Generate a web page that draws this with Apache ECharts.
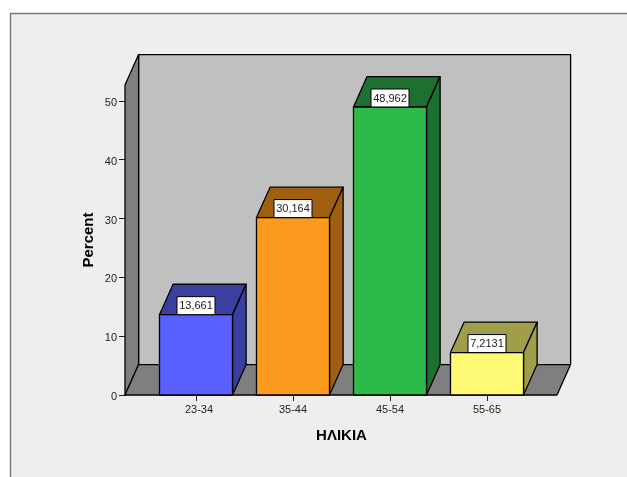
<!DOCTYPE html>
<html>
<head>
<meta charset="utf-8">
<style>html,body{margin:0;padding:0;background:#fff}#c{width:627px;height:477px}</style>
<script src="https://cdn.jsdelivr.net/npm/echarts@6/dist/echarts.min.js"></script>
</head>
<body>
<div id="c"></div>
<script>
// Age groups and the share of respondents in each
const categories = ['23-34', '35-44', '45-54', '55-65'];
const percents = [13.661, 30.164, 48.962, 7.2131];
const yTicks = [0, 10, 20, 30, 40, 50];
const frontColors = ['#5A5FFF', '#FC9A1E', '#2DBA4A', '#FDF975'];
const shadeColors = ['#3A3FA0', '#9E6010', '#1E7030', '#A09E4A'];

const yMax = 52.7;
const depthX = 13.6, depthY = -30.4;   // oblique offset of the 3D box
const overhangL = 22.5, overhangR = 21.5;  // floor extends past the outer bands
const ink = '#000';
const lineW = 1.3;

function poly(points, fill) {
  return { type: 'polygon', shape: { points }, style: { fill, stroke: ink, lineWidth: lineW, lineJoin: 'round' } };
}

// Left wall, back wall and floor of the box
function renderWalls(params, api) {
  const cs = params.coordSys;
  const [, y0] = api.coord([0, 0]);
  const [, yT] = api.coord([0, yMax]);
  const xL = cs.x - overhangL, xR = cs.x + cs.width + overhangR;
  return {
    type: 'group',
    children: [
      poly([[xL + depthX, yT + depthY], [xR + depthX, yT + depthY], [xR + depthX, y0 + depthY], [xL + depthX, y0 + depthY]], '#C0C0C0'),
      poly([[xL, yT], [xL + depthX, yT + depthY], [xL + depthX, y0 + depthY], [xL, y0]], '#7F7F7F'),
      poly([[xL, y0], [xL + depthX, y0 + depthY], [xR + depthX, y0 + depthY], [xR, y0]], '#7F7F7F')
    ]
  };
}

// One oblique bar with its value tag sitting on the front top edge
function renderBar(params, api) {
  const i = api.value(0), v = api.value(1);
  const [cx, yTop] = api.coord([i, v]);
  const [, y0] = api.coord([i, 0]);
  const w = api.size([1, 0])[0] * 0.753;
  const l = cx - w / 2, r = cx + w / 2;
  const tagW = 38, tagH = 18;
  return {
    type: 'group',
    children: [
      poly([[l, yTop], [l + depthX, yTop + depthY], [r + depthX, yTop + depthY], [r, yTop]], shadeColors[i]),
      poly([[r, yTop], [r + depthX, yTop + depthY], [r + depthX, y0 + depthY], [r, y0]], shadeColors[i]),
      poly([[l, yTop], [r, yTop], [r, y0], [l, y0]], frontColors[i]),
      {
        type: 'rect',
        shape: { x: cx - tagW / 2, y: yTop - tagH, width: tagW, height: tagH },
        style: { fill: '#fff', stroke: ink, lineWidth: 1 }
      },
      {
        type: 'text',
        style: {
          x: cx, y: yTop - tagH / 2 + 0.5,
          text: String(v).replace('.', ','),
          fill: '#222', font: '11px "Liberation Sans", Arial, sans-serif',
          align: 'center', verticalAlign: 'middle'
        }
      }
    ]
  };
}

const chart = echarts.init(document.getElementById('c'), null, { renderer: 'canvas' });
chart.setOption({
  animation: false,
  backgroundColor: '#fff',
  textStyle: { fontFamily: '"Liberation Sans", Arial, sans-serif' },
  graphic: [{
    type: 'rect', z: -10, silent: true,
    shape: { x: 10.5, y: 13.5, width: 640, height: 500 },
    style: { fill: '#EEEEEE', stroke: '#777', lineWidth: 1.4 }
  }],
  grid: { left: 147.5, top: 85, width: 388, height: 310 },
  xAxis: {
    type: 'category',
    // the first tick label sits slightly right of its tick
    data: categories.map((c, i) => (i === 0 ? { value: c, textStyle: { padding: [0, 0, 2, 6] } } : c)),
    name: 'ΗΛΙΚΙΑ',
    nameLocation: 'middle',
    nameGap: 33,
    nameMoveOverlap: false,
    nameTextStyle: { fontSize: 15, fontWeight: 'bold', color: '#000' },
    axisLine: { show: false },
    axisTick: { show: true, alignWithLabel: true, length: 6, lineStyle: { color: '#222', width: 1 } },
    axisLabel: { color: '#222', fontSize: 11, margin: 9, interval: 0 }
  },
  yAxis: {
    type: 'value',
    min: 0,
    max: yMax,
    offset: overhangL,
    name: 'Percent',
    nameLocation: 'middle',
    nameGap: 29,
    nameMoveOverlap: false,
    nameTextStyle: { fontSize: 15, fontWeight: 'bold', color: '#000' },
    splitLine: { show: false },
    axisLine: { show: true, lineStyle: { color: ink, width: 1 } },
    axisTick: { show: true, length: 6, customValues: yTicks, lineStyle: { color: '#222', width: 1 } },
    axisLabel: {
      margin: 8,
      customValues: yTicks,
      formatter: '{n|{value}}',
      rich: { n: { color: '#222', fontSize: 11, padding: [4, 0, 0, 0] } }
    }
  },
  series: [
    { type: 'custom', name: 'walls', z: 1, silent: true, clip: false, renderItem: renderWalls, data: [[0, 0]] },
    {
      type: 'custom', name: 'bars', z: 2, silent: true, clip: false, renderItem: renderBar,
      encode: { x: 0, y: 1 },
      data: percents.map((v, i) => [i, v])
    }
  ]
});
</script>
</body>
</html>
